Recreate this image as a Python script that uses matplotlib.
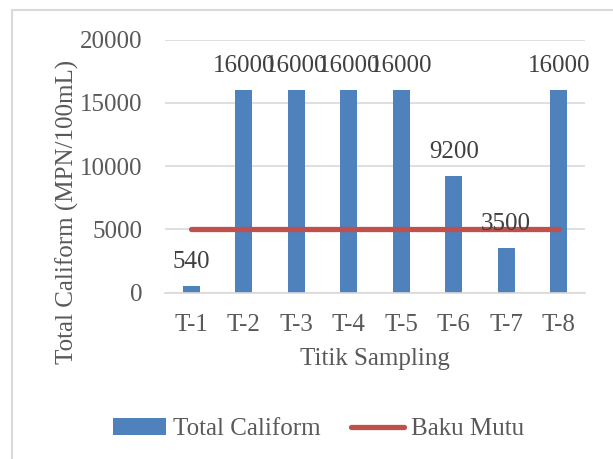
import numpy as np
import matplotlib
matplotlib.use('Agg')
import matplotlib.pyplot as plt
from matplotlib.patches import Rectangle

# data
titik = ['T-1', 'T-2', 'T-3', 'T-4', 'T-5', 'T-6', 'T-7', 'T-8']
total_caliform = [540, 16000, 16000, 16000, 16000, 9200, 3500, 16000]
baku_mutu = [5000] * 8
yticks = [0, 5000, 10000, 15000, 20000]

grey = '#595959'
plt.rcParams['font.family'] = ['Liberation Serif', 'DejaVu Serif']
plt.rcParams['font.size'] = 18

fig = plt.figure(figsize=(6.13, 4.59), dpi=100)
# light frame round the chart (right/bottom edges fall outside the image)
fig.patches.append(Rectangle((12 / 613, -0.1), 1.2, 1 - 10 / 459 + 0.1,
                             transform=fig.transFigure, fill=False,
                             edgecolor='#D9D9D9', linewidth=1.5))

ax = fig.add_axes([165 / 613, 1 - 292.7 / 459, 420 / 613, (292.7 - 39.6) / 459])
x = np.arange(len(titik))

bars = ax.bar(x, total_caliform, width=0.33, color='#4F81BD', label='Total Caliform', zorder=2)
line, = ax.plot(x, baku_mutu, color='#C0504D', linewidth=3.8, solid_capstyle='round',
                label='Baku Mutu', zorder=3)

for xi, v in zip(x, total_caliform):
    ax.annotate(str(v), (xi, v), xytext=(0, 17.5), textcoords='offset points',
                ha='center', va='center', color='#404040', fontsize=18, zorder=4)

ax.set_xlim(-0.5, len(titik) - 0.5)
ax.set_ylim(0, 20000)
ax.set_yticks(yticks)
ax.set_xticks(x)
ax.set_xticklabels(titik)
ax.yaxis.grid(True, color='#D9D9D9', linewidth=1.2, zorder=0)
ax.set_axisbelow(True)
for s in ax.spines.values():
    s.set_visible(False)
ax.spines['bottom'].set_visible(True)
ax.spines['bottom'].set_color('#D9D9D9')
ax.spines['bottom'].set_linewidth(1.2)
ax.tick_params(axis='both', length=0, colors=grey, labelsize=18)
ax.tick_params(axis='y', pad=16)
ax.tick_params(axis='x', pad=15)

ax.set_xlabel('Titik Sampling', color=grey, fontsize=18, labelpad=9)
ax.set_ylabel('Total Caliform (MPN/100mL)', color=grey, fontsize=18)
ax.yaxis.set_label_coords(-0.205, 0.321)

leg = fig.legend([bars, line], ['Total Caliform', 'Baku Mutu'], loc='center',
                 bbox_to_anchor=(0.52, 1 - 429 / 459), ncol=2,
                 frameon=False, fontsize=18, handlelength=2.1, handletextpad=0.3,
                 columnspacing=1.2)
for t in leg.get_texts():
    t.set_color(grey)

fig.savefig('out.png', dpi=100)
